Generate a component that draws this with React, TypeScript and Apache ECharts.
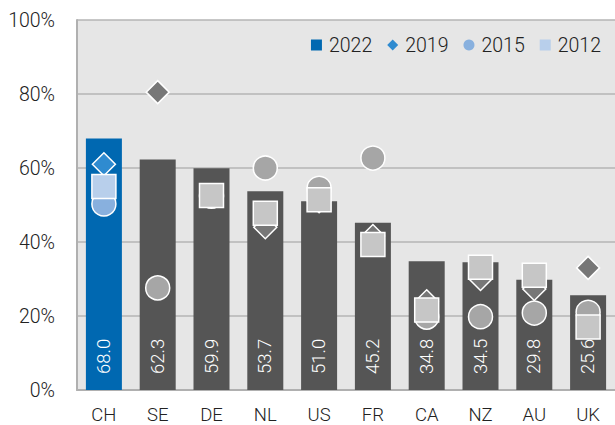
import React, { useEffect, useRef } from "react";
import * as echarts from "echarts";

const categories = ["CH", "SE", "DE", "NL", "US", "FR", "CA", "NZ", "AU", "UK"];
const v2022 = [68.0, 62.3, 59.9, 53.7, 51.0, 45.2, 34.8, 34.5, 29.8, 25.6];
const v2019 = [61, 80.5, 52.4, 44, 51, 41.6, 24, 30, 27.3, 33];
const v2015 = [50.3, 27.6, 52.4, 60, 54.5, 62.7, 19.7, 19.8, 20.8, 21];
const v2012: (number | null)[] = [55, null, 52.6, 47.8, 51.4, 39.3, 21.6, 33.2, 31, 17];
const yTicks = [0, 20, 40, 60, 80, 100];

const FONT = "Roboto";
const W = 300;

export default function App() {
  const ref = useRef<HTMLDivElement>(null);
  useEffect(() => {
    if (!ref.current) return;
    const chart = echarts.init(ref.current, null, { renderer: "svg" });
    const hl = (i: number, blue: string, gray: string) => (i === 0 ? blue : gray);
    const mk = (arr: (number | null)[], blue: string, gray: string) =>
      arr.map((v, i) => ({ value: v, itemStyle: { color: hl(i, blue, gray) } }));
    chart.setOption({
      animation: false,
      textStyle: { fontFamily: FONT, fontWeight: W },
      grid: {
        left: 77,
        right: 0,
        top: 20,
        bottom: 35,
        show: true,
        backgroundColor: "#e6e6e6",
        borderWidth: 0,
      },
      legend: {
        top: 30,
        right: 9,
        itemWidth: 11,
        itemHeight: 11,
        itemGap: 15,
        itemStyle: { borderWidth: 0 },
        textStyle: {
          fontSize: 19.5,
          color: "#222",
          fontFamily: FONT,
          fontWeight: W,
          padding: [0, 0, 0, 2],
        },
        data: [
          { name: "2022", icon: "rect" },
          { name: "2019", icon: "diamond" },
          { name: "2015", icon: "circle" },
          { name: "2012", icon: "rect" },
        ],
      },
      xAxis: {
        type: "category",
        data: categories,
        axisLine: { lineStyle: { color: "#b0b0b0", width: 2 } },
        axisTick: { show: false },
        axisLabel: {
          color: "#222",
          fontSize: 18.5,
          lineHeight: 20,
          margin: 15,
          fontFamily: FONT,
          fontWeight: W,
        },
      },
      yAxis: {
        type: "value",
        min: yTicks[0],
        max: yTicks[yTicks.length - 1],
        interval: 20,
        axisLine: { show: true, lineStyle: { color: "#b0b0b0", width: 2 } },
        axisTick: { show: false },
        splitLine: { lineStyle: { color: "#b4b4b4", width: 1.5 } },
        axisLabel: {
          formatter: "{value}%",
          color: "#222",
          fontSize: 19.5,
          margin: 22,
          fontFamily: FONT,
          fontWeight: W,
        },
      },
      series: [
        {
          name: "2022",
          type: "bar",
          barWidth: 36,
          itemStyle: { color: "#0068b1" },
          data: v2022.map((v, i) => ({ value: v, itemStyle: { color: hl(i, "#0068b1", "#555555") } })),
          label: {
            show: true,
            position: "insideBottom",
            rotate: 90,
            align: "left",
            verticalAlign: "middle",
            distance: 16,
            color: "#ffffff",
            fontSize: 18.5,
            fontFamily: FONT,
            fontWeight: W,
            formatter: (p: any) => Number(p.value).toFixed(1),
          },
          z: 2,
        },
        {
          name: "2019",
          type: "scatter",
          symbol: "diamond",
          symbolSize: 23,
          itemStyle: { color: "#2f8bd0", borderColor: "#fff", borderWidth: 1.5, opacity: 1 },
          data: mk(v2019, "#2f8bd0", "#777777"),
          z: 3,
        },
        {
          name: "2015",
          type: "scatter",
          symbol: "circle",
          symbolSize: 24,
          itemStyle: { color: "#88b0de", borderColor: "#fff", borderWidth: 1.5, opacity: 1 },
          data: mk(v2015, "#88b0de", "#a6a6a6"),
          z: 4,
        },
        {
          name: "2012",
          type: "scatter",
          symbol: "rect",
          symbolSize: 24,
          itemStyle: { color: "#b8cfeb", borderColor: "#fff", borderWidth: 1.5, opacity: 1 },
          data: mk(v2012, "#b8cfeb", "#c6c6c6"),
          z: 5,
        },
      ],
    });
    return () => chart.dispose();
  }, []);
  return (
    <div
      ref={ref}
      style={{ position: "fixed", left: 0, top: 0, width: 615, height: 425, background: "#fff" }}
    />
  );
}
